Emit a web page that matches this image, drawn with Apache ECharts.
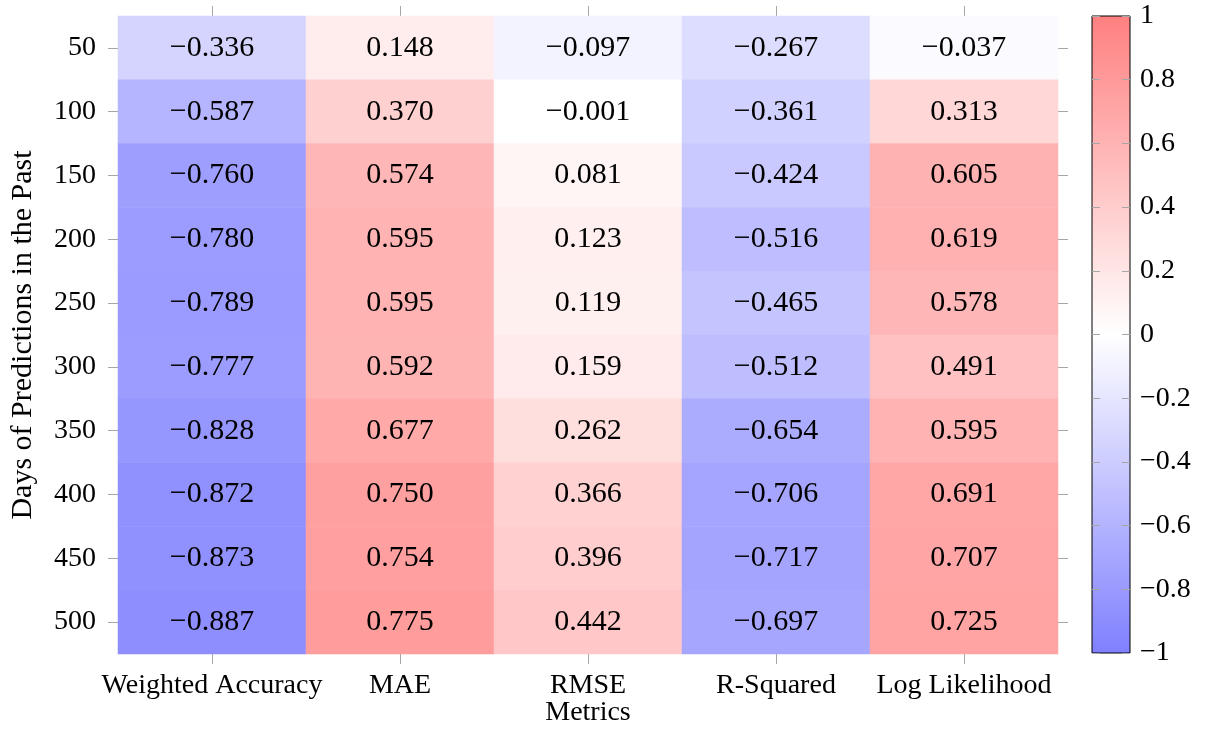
<!DOCTYPE html>
<html>
<head>
<meta charset="utf-8">
<script src="https://cdn.jsdelivr.net/npm/echarts@6/dist/echarts.min.js"></script>
<style>
  html, body { margin: 0; padding: 0; background: #fff; }
  #chart { width: 1205px; height: 729px; }
</style>
</head>
<body>
<div id="chart"></div>
<script>
// Correlation of each metric with the look-back window length
const metrics = ['Weighted Accuracy', 'MAE', 'RMSE', 'R-Squared', 'Log Likelihood'];
const days = ['50', '100', '150', '200', '250', '300', '350', '400', '450', '500'];

const weightedAccuracy = [-0.336, -0.587, -0.760, -0.780, -0.789, -0.777, -0.828, -0.872, -0.873, -0.887];
const mae              = [ 0.148,  0.370,  0.574,  0.595,  0.595,  0.592,  0.677,  0.750,  0.754,  0.775];
const rmse             = [-0.097, -0.001,  0.081,  0.123,  0.119,  0.159,  0.262,  0.366,  0.396,  0.442];
const rSquared         = [-0.267, -0.361, -0.424, -0.516, -0.465, -0.512, -0.654, -0.706, -0.717, -0.697];
const logLikelihood    = [-0.037,  0.313,  0.605,  0.619,  0.578,  0.491,  0.595,  0.691,  0.707,  0.725];

const colorbarTicks = [-1, -0.8, -0.6, -0.4, -0.2, 0, 0.2, 0.4, 0.6, 0.8, 1];

const columns = [weightedAccuracy, mae, rmse, rSquared, logLikelihood];
const cells = [];
columns.forEach((col, ci) => {
  col.forEach((v, ri) => cells.push([ci, ri, v]));
});

const FONT = '"Liberation Serif", "DejaVu Serif", serif';
const FS_TICK = 28;
const FS_CELL = 30;
const FS_NAME = 30;
const minus = s => String(s).replace('-', '\u2212');
const tickGray = '#a6a6a6';

const chart = echarts.init(document.getElementById('chart'));
chart.setOption({
  animation: false,
  backgroundColor: '#ffffff',
  textStyle: { fontFamily: FONT },
  grid: [
    { left: 118, top: 16, width: 940, height: 638, show: false, containLabel: false, outerBoundsMode: 'none' },
    {
      left: 1092, top: 16, width: 38, height: 637, show: true,
      containLabel: false, outerBoundsMode: 'none',
      borderColor: '#000', borderWidth: 1,
      backgroundColor: new echarts.graphic.LinearGradient(0, 0, 0, 1, [
        { offset: 0, color: '#ff8080' },
        { offset: 0.5, color: '#ffffff' },
        { offset: 1, color: '#8080ff' }
      ])
    }
  ],
  xAxis: [
    {
      type: 'category', data: metrics, gridIndex: 0, position: 'bottom',
      axisLine: { show: false },
      axisTick: { show: true, alignWithLabel: true, length: 10, lineStyle: { color: tickGray } },
      axisLabel: { color: '#000', fontSize: FS_TICK, fontFamily: FONT, margin: 18, interval: 0 },
      name: 'Metrics', nameLocation: 'middle', nameGap: 45, nameMoveOverlap: false,
      nameTextStyle: { color: '#000', fontSize: FS_TICK, fontFamily: FONT }
    },
    {
      type: 'category', data: metrics, gridIndex: 0, position: 'top',
      axisLine: { show: false },
      axisTick: { show: true, alignWithLabel: true, length: 10, lineStyle: { color: tickGray } },
      axisLabel: { show: false }
    },
    {
      type: 'value', gridIndex: 1, show: false, min: 0, max: 1
    }
  ],
  yAxis: [
    {
      type: 'category', data: days, gridIndex: 0, inverse: true, position: 'left',
      axisLine: { show: false },
      axisTick: { show: true, alignWithLabel: true, length: 10, lineStyle: { color: tickGray } },
      axisLabel: { color: '#000', fontSize: FS_TICK, fontFamily: FONT, margin: 22, interval: 0 },
      name: 'Days of Predictions in the Past', nameLocation: 'middle', nameGap: 80, nameMoveOverlap: false,
      nameTextStyle: { color: '#000', fontSize: FS_NAME, fontFamily: FONT }
    },
    {
      type: 'category', data: days, gridIndex: 0, inverse: true, position: 'right',
      axisLine: { show: false },
      axisTick: { show: true, alignWithLabel: true, length: 10, lineStyle: { color: tickGray } },
      axisLabel: { show: false }
    },
    {
      type: 'value', gridIndex: 1, position: 'left', min: -1, max: 1, interval: 0.2,
      axisLine: { show: false },
      axisTick: { show: true, inside: true, length: 8, lineStyle: { color: tickGray } },
      axisLabel: { show: false },
      splitLine: { show: false }
    },
    {
      type: 'value', gridIndex: 1, position: 'right', min: -1, max: 1, interval: 0.2,
      axisLine: { show: false },
      axisTick: { show: true, inside: true, length: 8, lineStyle: { color: tickGray } },
      axisLabel: {
        color: '#000', fontSize: FS_TICK, fontFamily: FONT, margin: 10,
        formatter: v => minus(Math.round(v * 10) / 10)
      },
      splitLine: { show: false }
    }
  ],
  visualMap: {
    show: false, type: 'continuous', min: -1, max: 1, dimension: 2, seriesIndex: 0,
    inRange: { color: ['#8080ff', '#ffffff', '#ff8080'] }
  },
  series: [
    {
      type: 'heatmap', xAxisIndex: 0, yAxisIndex: 0, data: cells,
      label: {
        show: true, color: '#000', fontSize: FS_CELL, fontFamily: FONT,
        formatter: p => minus(p.value[2].toFixed(3))
      },
      emphasis: { disabled: true }
    }
  ]
});
</script>
</body>
</html>
